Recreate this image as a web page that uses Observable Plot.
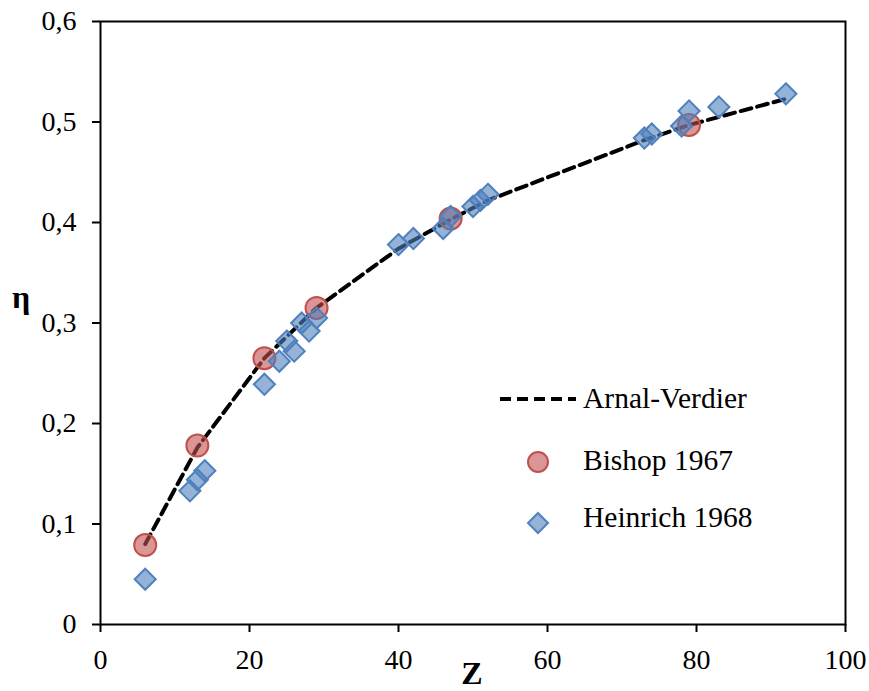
<!DOCTYPE html>
<html>
<head>
<meta charset="utf-8">
<script src="https://cdn.jsdelivr.net/npm/d3@7"></script>
<script src="https://cdn.jsdelivr.net/npm/@observablehq/plot@0.6"></script>
<style>
  html, body { margin: 0; padding: 0; background: #fff; }
  #chart { width: 869px; height: 691px; overflow: hidden; }
</style>
</head>
<body>
<div id="chart"></div>
<script>
// Arnal-Verdier model curve
const curveZ   = [6, 13, 22, 29, 40, 47, 52, 73, 79, 92];
const curveEta = [0.080, 0.176, 0.265, 0.315, 0.374, 0.403, 0.422, 0.482, 0.497, 0.523];
// Bishop 1967
const bishopZ   = [6, 13, 22, 29, 47, 79];
const bishopEta = [0.079, 0.178, 0.265, 0.315, 0.404, 0.497];
// Heinrich 1968
const heinrichZ   = [6, 12, 13, 14, 22, 24, 25, 26, 27, 28, 29, 40, 42, 46, 47, 50, 51, 52, 73, 74, 78, 79, 83, 92];
const heinrichEta = [0.045, 0.133, 0.144, 0.153, 0.239, 0.262, 0.282, 0.272, 0.300, 0.292, 0.305, 0.378, 0.384, 0.394, 0.406, 0.416, 0.422, 0.428, 0.484, 0.488, 0.496, 0.511, 0.515, 0.528];
// axes
const xTicks = [0, 20, 40, 60, 80, 100];
const yTicks = [0, 0.1, 0.2, 0.3, 0.4, 0.5, 0.6];
const seriesNames = ["Arnal-Verdier", "Bishop 1967", "Heinrich 1968"];
const xLabel = "Z";
const yLabel = "η";

const curve = curveZ.map((z, i) => ({z, eta: curveEta[i]}));
const bishop = bishopZ.map((z, i) => ({z, eta: bishopEta[i]}));
const heinrich = heinrichZ.map((z, i) => ({z, eta: heinrichEta[i]}));

const FONT = "'Liberation Serif', 'Times New Roman', serif";
const redStroke = "#C0504D", redFill = "rgba(192,80,77,0.6)";
const blueStroke = "#4F81BD", blueFill = "rgba(79,129,189,0.6)";

const fmtY = d => d === 0 ? "0" : d.toFixed(1).replace(".", ",");

const plot = Plot.plot({
  width: 869,
  height: 691,
  marginLeft: 100,
  marginRight: 24,
  marginTop: 21,
  marginBottom: 67,
  style: {fontFamily: FONT, fontSize: "28px", color: "#000", background: "#fff", overflow: "visible"},
  x: {domain: [0, 100]},
  y: {domain: [0, 0.6]},
  marks: [
    Plot.axisX({ticks: xTicks, tickSize: 8, tickPadding: 17, strokeWidth: 2, label: null, fontSize: 28}),
    Plot.axisY({ticks: yTicks, tickSize: 8, tickPadding: 16, strokeWidth: 2, label: null, tickFormat: fmtY, fontSize: 28}),
    Plot.frame({stroke: "#000", strokeWidth: 2}),
    Plot.line(curve, {x: "z", y: "eta", stroke: "#000", strokeWidth: 4, strokeDasharray: "11,6"}),
    Plot.dot(bishop, {x: "z", y: "eta", r: 11, fill: redFill, stroke: redStroke, strokeWidth: 2}),
    Plot.dot(heinrich, {x: "z", y: "eta", r: 9.5, symbol: "diamond2", fill: blueFill, stroke: blueStroke, strokeWidth: 2})
  ]
});

document.getElementById("chart").appendChild(plot);

// Axis titles and legend drawn into the same SVG
const svg = d3.select(plot);
svg.append("text").text(yLabel)
  .attr("x", 12).attr("y", 308).attr("text-anchor", "start")
  .attr("font-family", FONT).attr("font-size", 32).attr("font-weight", "bold");
svg.append("text").text(xLabel)
  .attr("x", 472).attr("y", 684).attr("text-anchor", "middle")
  .attr("font-family", FONT).attr("font-size", 32).attr("font-weight", "bold");

const lg = svg.append("g").attr("font-family", FONT).attr("font-size", 29.5).attr("text-anchor", "start");
lg.append("line").attr("x1", 500).attr("x2", 576).attr("y1", 399).attr("y2", 399)
  .attr("stroke", "#000").attr("stroke-width", 4).attr("stroke-dasharray", "11,6");
lg.append("circle").attr("cx", 538).attr("cy", 462).attr("r", 10)
  .attr("fill", redFill).attr("stroke", redStroke).attr("stroke-width", 2);
const dsz = 10;
lg.append("path").attr("d", `M538,${523 - dsz}L${538 + dsz},523L538,${523 + dsz}L${538 - dsz},523Z`)
  .attr("fill", blueFill).attr("stroke", blueStroke).attr("stroke-width", 2);
[408, 470, 527].forEach((y, i) => {
  lg.append("text").text(seriesNames[i]).attr("x", 583).attr("y", y).attr("text-anchor", "start");
});
</script>
</body>
</html>
